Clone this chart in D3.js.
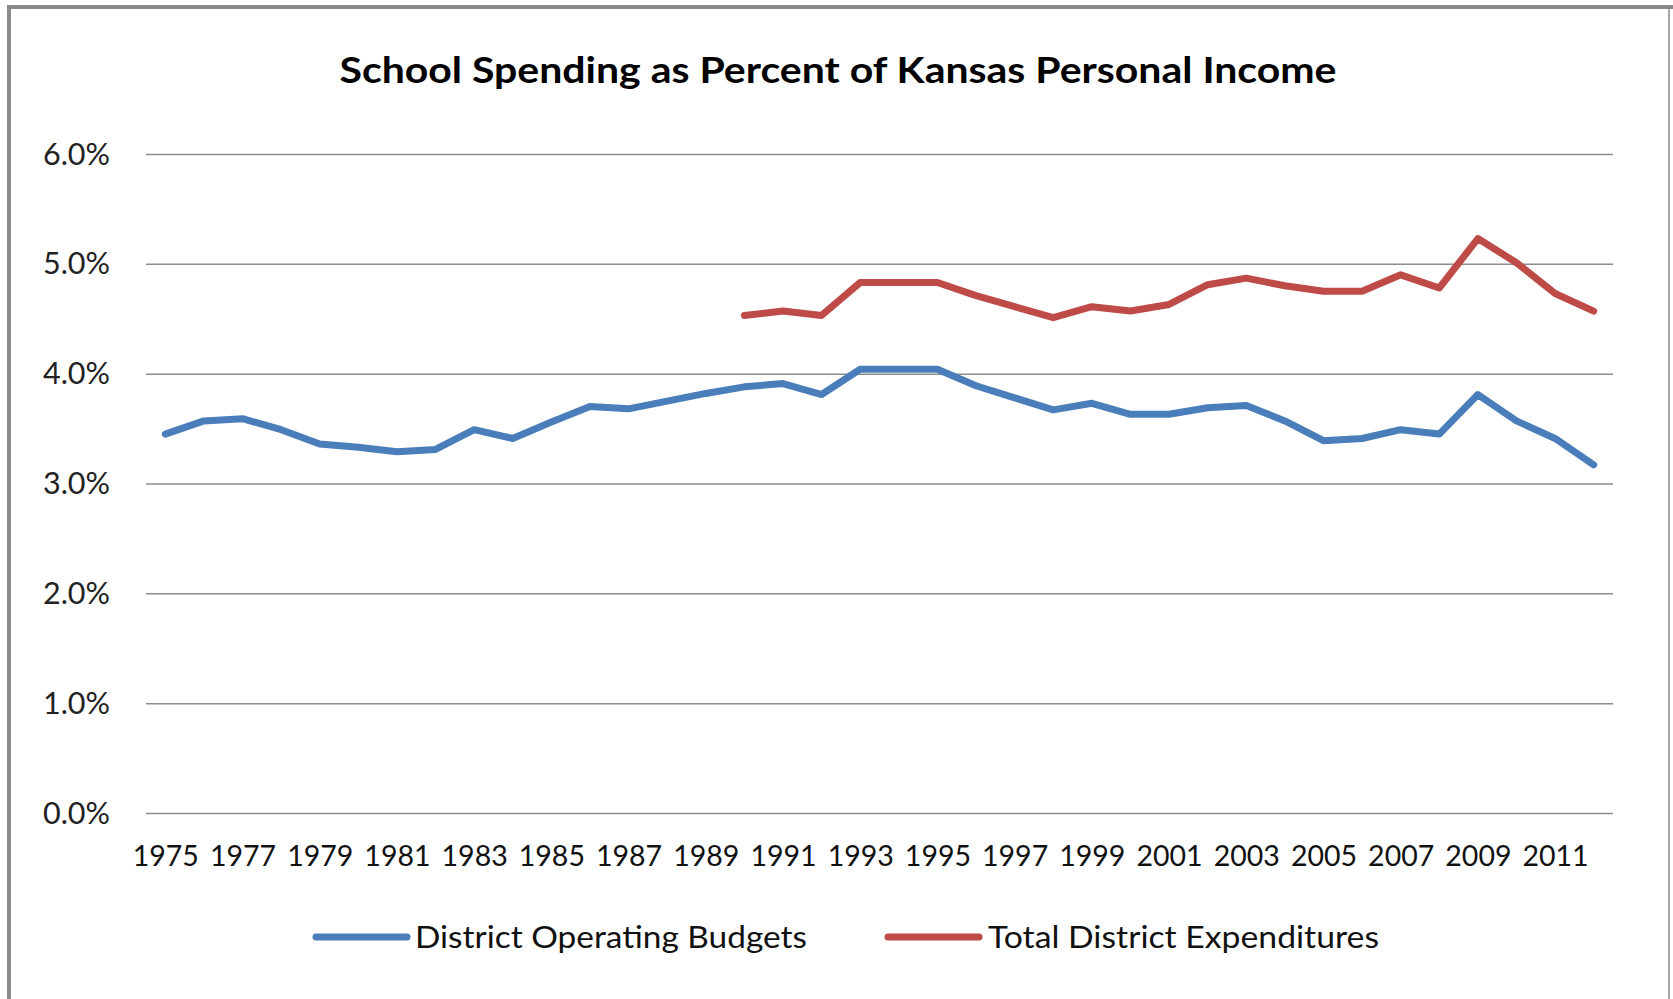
<!DOCTYPE html>
<html lang="en">
<head>
  <meta charset="UTF-8">
  <title>School Spending as Percent of Kansas Personal Income</title>
  <script src="https://d3js.org/d3.v7.min.js"></script>
  <style>
    * {
      margin: 0;
      padding: 0;
      box-sizing: border-box;
    }

    body {
      width: 1673px;
      height: 999px;
      background-color: #ffffff;
      font-family: Lato, "Open Sans", sans-serif;
      overflow: hidden;
    }
  </style>
</head>
<body>
  <div id="chart"></div>

  <script>
    // Data (percent of personal income)
    const years = d3.range(1975, 2013);
    const operatingBudgets = [
      3.45, 3.57, 3.59, 3.49, 3.36, 3.33, 3.29, 3.31, 3.49, 3.41,
      3.56, 3.70, 3.68, 3.75, 3.82, 3.88, 3.91, 3.81, 4.04, 4.04,
      4.04, 3.89, 3.78, 3.67, 3.73, 3.63, 3.63, 3.69, 3.71, 3.57,
      3.39, 3.41, 3.49, 3.45, 3.81, 3.57, 3.41, 3.17
    ];
    // no figures before 1990
    const totalExpenditures = [
      null, null, null, null, null, null, null, null, null, null,
      null, null, null, null, null,
      4.53, 4.57, 4.53, 4.83, 4.83, 4.83, 4.71, 4.61, 4.51, 4.61,
      4.57, 4.63, 4.81, 4.87, 4.80, 4.75, 4.75, 4.90, 4.78, 5.23,
      5.01, 4.73, 4.57
    ];
    const yTicks = [0, 1, 2, 3, 4, 5, 6];
    const xTickYears = years.filter((d, i) => i % 2 === 0);
    const seriesNames = ['District Operating Budgets', 'Total District Expenditures'];
    const seriesColors = ['#4A7EBB', '#BE4B48'];

    const width = 1673;
    const height = 999;
    const plot = { left: 146, right: 1613, top: 154, bottom: 813 };

    const svg = d3.select('#chart')
      .append('svg')
      .attr('width', width)
      .attr('height', height);

    // frame
    svg.append('rect').attr('x', 7).attr('y', 5).attr('width', width - 7).attr('height', 4).attr('fill', '#8a8a8a');
    svg.append('rect').attr('x', 7).attr('y', 5).attr('width', 4).attr('height', height - 5).attr('fill', '#8a8a8a');
    svg.append('rect').attr('x', 1668).attr('y', 9).attr('width', 2).attr('height', height - 9).attr('fill', '#a6a6a6');

    // scales
    const x = d3.scalePoint()
      .domain(years)
      .range([plot.left, plot.right])
      .padding(0.5);

    const y = d3.scaleLinear()
      .domain([0, 6])
      .range([plot.bottom, plot.top]);

    // y axis with gridlines
    const yAxis = svg.append('g')
      .attr('transform', `translate(${plot.left},0)`)
      .call(d3.axisLeft(y)
        .tickValues(yTicks)
        .tickSize(-(plot.right - plot.left))
        .tickPadding(36)
        .tickFormat(d => d.toFixed(1) + '%'));

    yAxis.select('.domain').remove();
    yAxis.selectAll('.tick line')
      .attr('stroke', '#8c8c8c')
      .attr('stroke-width', 1.5);
    yAxis.selectAll('.tick text')
      .attr('fill', '#222')
      .attr('dy', '0.33em')
      .style('font-size', '30.5px')
      .style('font-family', 'Lato, sans-serif');

    // x axis labels
    const xAxis = svg.append('g')
      .attr('transform', `translate(0,${plot.bottom})`)
      .call(d3.axisBottom(x)
        .tickValues(xTickYears)
        .tickSize(0)
        .tickFormat(d => String(d)));

    xAxis.select('.domain').remove();
    xAxis.selectAll('.tick text')
      .attr('fill', '#111')
      .attr('y', 53)
      .attr('dy', 0)
      .style('font-size', '28.5px')
      .style('font-family', 'Lato, sans-serif');

    // lines
    const line = d3.line()
      .defined(d => d.v != null)
      .x(d => x(d.year))
      .y(d => y(d.v));

    [operatingBudgets, totalExpenditures].forEach((values, i) => {
      svg.append('path')
        .datum(years.map((year, j) => ({ year, v: values[j] })))
        .attr('fill', 'none')
        .attr('stroke', seriesColors[i])
        .attr('stroke-width', 7)
        .attr('stroke-linejoin', 'round')
        .attr('stroke-linecap', 'round')
        .attr('d', line);
    });

    // title
    svg.append('text')
      .attr('x', 838)
      .attr('y', 83)
      .attr('text-anchor', 'middle')
      .attr('textLength', 997)
      .attr('lengthAdjust', 'spacingAndGlyphs')
      .style('font-family', 'Lato, sans-serif')
      .style('font-weight', 'bold')
      .style('font-size', '36px')
      .attr('fill', '#000')
      .text('School Spending as Percent of Kansas Personal Income');

    // legend
    const legendItems = [
      { x1: 316, x2: 407, tx: 415, tw: 392 },
      { x1: 888, x2: 979, tx: 988, tw: 391 }
    ];
    const legend = svg.append('g');
    legendItems.forEach((item, i) => {
      legend.append('line')
        .attr('x1', item.x1)
        .attr('x2', item.x2)
        .attr('y1', 937)
        .attr('y2', 937)
        .attr('stroke', seriesColors[i])
        .attr('stroke-width', 7)
        .attr('stroke-linecap', 'round');
      legend.append('text')
        .attr('x', item.tx)
        .attr('y', 948)
        .attr('textLength', item.tw)
        .attr('lengthAdjust', 'spacingAndGlyphs')
        .style('font-family', 'Lato, sans-serif')
        .style('font-size', '30px')
        .attr('fill', '#111')
        .text(seriesNames[i]);
    });
  </script>
</body>
</html>
